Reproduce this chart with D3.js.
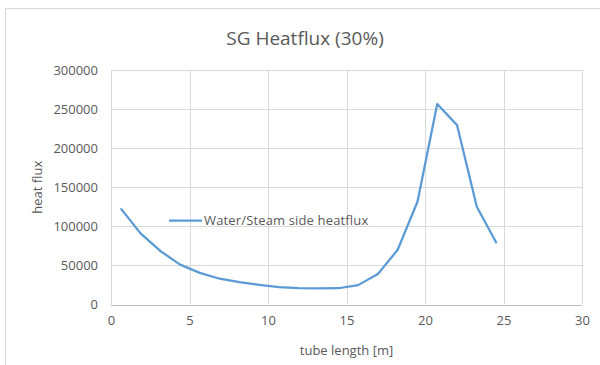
<!DOCTYPE html>
<html>
<head>
<meta charset="utf-8">
<script src="https://cdn.jsdelivr.net/npm/d3@7"></script>
<style>
  body { margin: 0; background: #fff; }
  text { font-family: "Open Sans", "Liberation Sans", sans-serif; fill: #595959; }
</style>
</head>
<body>
<svg id="chart" width="600" height="365"></svg>
<script>
// tube position [m] and heat flux
const tubeLength = [0.62, 1.88, 3.14, 4.40, 5.66, 6.92, 8.18, 9.44, 10.70, 11.96,
                    13.22, 14.48, 15.74, 17.00, 18.26, 19.52, 20.78, 22.04, 23.30, 24.56];
const heatFlux = [123000, 91000, 68500, 51000, 40500, 33000, 28500, 25200, 22300, 20800,
                  20700, 20800, 24800, 39000, 70000, 131500, 256500, 229500, 125000, 78300];
const xTicks = [0, 5, 10, 15, 20, 25, 30];
const yTicks = [0, 50000, 100000, 150000, 200000, 250000, 300000];
const seriesName = "Water/Steam side heatflux";

const svg = d3.select("#chart");
const margin = {left: 111, right: 18, top: 70, bottom: 60.5};
const width = 600, height = 365;

// chart frame (only top/left edges visible in the reference)
svg.append("path")
  .attr("d", "M5.5,365 L5.5,8.5 L600,8.5")
  .attr("fill", "none")
  .attr("stroke", "#d9d9d9")
  .attr("stroke-width", 1);

const x = d3.scaleLinear().domain([0, 30]).range([margin.left, width - margin.right]);
const y = d3.scaleLinear().domain([0, 300000]).range([height - margin.bottom, margin.top]);

// gridlines
svg.append("g").selectAll("line").data(yTicks.slice(1)).enter()
  .append("line")
  .attr("x1", x(0)).attr("x2", x(30))
  .attr("y1", d => Math.round(y(d)) + 0.5).attr("y2", d => Math.round(y(d)) + 0.5)
  .attr("stroke", "#d9d9d9");
svg.append("g").selectAll("line").data(xTicks).enter()
  .append("line")
  .attr("x1", d => Math.round(x(d)) + 0.5).attr("x2", d => Math.round(x(d)) + 0.5)
  .attr("y1", y(0)).attr("y2", y(300000))
  .attr("stroke", "#d9d9d9");

// bottom axis line
svg.append("line")
  .attr("x1", x(0)).attr("x2", x(30))
  .attr("y1", Math.round(y(0)) + 0.5).attr("y2", Math.round(y(0)) + 0.5)
  .attr("stroke", "#bfbfbf");

// axes (labels only)
const xAxis = d3.axisBottom(x).tickValues(xTicks).tickSize(0).tickPadding(11);
svg.append("g")
  .attr("transform", `translate(0,${y(0)})`)
  .call(xAxis)
  .call(g => g.select(".domain").remove())
  .selectAll("text")
  .style("font-size", "13px")
  .attr("font-family", null)
  .attr("fill", "#595959");

const yAxis = d3.axisLeft(y).tickValues(yTicks).tickSize(0).tickPadding(13).tickFormat(d3.format("d"));
svg.append("g")
  .attr("transform", `translate(${x(0)},0)`)
  .call(yAxis)
  .call(g => g.select(".domain").remove())
  .selectAll("text")
  .style("font-size", "13px")
  .attr("font-family", null)
  .attr("fill", "#595959");

// the series
const line = d3.line()
  .x((d, i) => x(tubeLength[i]))
  .y(d => y(d));

svg.append("path")
  .datum(heatFlux)
  .attr("d", line)
  .attr("fill", "none")
  .attr("stroke", "#5b9bd5")
  .attr("stroke-width", 2.25)
  .attr("stroke-linejoin", "round");

// legend inside the plot
svg.append("line")
  .attr("x1", 169).attr("x2", 202)
  .attr("y1", 220.5).attr("y2", 220.5)
  .attr("stroke", "#5b9bd5")
  .attr("stroke-width", 2.25);
svg.append("text")
  .attr("x", 204).attr("y", 225)
  .style("font-size", "13px")
  .style("letter-spacing", "0.15px")
  .text(seriesName);

// titles
svg.append("text")
  .attr("x", 305).attr("y", 45)
  .attr("text-anchor", "middle")
  .style("font-size", "19px")
  .text("SG Heatflux (30%)");

svg.append("text")
  .attr("x", x(15)).attr("y", 355)
  .attr("text-anchor", "middle")
  .style("font-size", "13px")
  .text("tube length [m]");

svg.append("text")
  .attr("transform", `translate(42,${y(150000)}) rotate(-90)`)
  .attr("text-anchor", "middle")
  .style("font-size", "13px")
  .text("heat flux");
</script>
</body>
</html>
